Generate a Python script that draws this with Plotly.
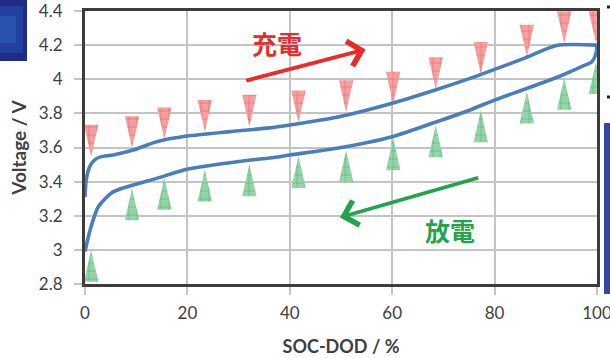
import plotly.graph_objects as go

# ---------------- data ----------------
x_ticks = [0, 20, 40, 60, 80, 100]
x_tick_labels = ["0", "20", "40", "60", "80", "100"]
y_ticks = [2.8, 3.0, 3.2, 3.4, 3.6, 3.8, 4.0, 4.2, 4.4]
y_tick_labels = ["2.8", "3", "3.2", "3.4", "3.6", "3.8", "4", "4.2", "4.4"]

# charge curve (upper blue line)
charge_soc = [0, 0.2, 0.8, 1.8, 3.0, 5.5, 9.4, 14.0, 19.9, 28.3, 36.0, 40.0, 49.2, 60.0, 68.7, 75.2, 80.0, 86.0, 92.1, 100]
charge_v = [3.31, 3.40, 3.48, 3.525, 3.545, 3.556, 3.585, 3.634, 3.667, 3.693, 3.715, 3.732, 3.777, 3.859, 3.94, 4.005, 4.058, 4.125, 4.198, 4.2]

# discharge curve (lower blue line)
discharge_soc = [0, 1.0, 2.6, 5.5, 9.4, 14.0, 19.9, 28.3, 38.0, 40.0, 49.2, 60.0, 68.7, 75.2, 80.0, 86.0, 92.1, 97.3, 99.0, 99.8, 100]
discharge_v = [2.99, 3.116, 3.253, 3.34, 3.38, 3.419, 3.472, 3.511, 3.546, 3.556, 3.595, 3.663, 3.751, 3.82, 3.878, 3.943, 4.01, 4.078, 4.103, 4.15, 4.2]

# measured points (triangles)
point_soc = [1.2, 9.2, 15.5, 23.4, 32.1, 41.7, 51.0, 60.2, 68.5, 77.3, 86.3, 93.6, 99.8]
charge_pts_v = [3.64, 3.69, 3.74, 3.785, 3.815, 3.84, 3.90, 3.95, 4.035, 4.125, 4.225, 4.305, 4.305]
discharge_pts_v = [2.907, 3.268, 3.329, 3.377, 3.408, 3.457, 3.49, 3.561, 3.637, 3.725, 3.834, 3.915, 4.007]

# annotation positions (data coords)
charge_label = ("充電", 37.5, 4.21)
discharge_label = ("放電", 71.3, 3.116)
charge_arrow = (31.2, 3.99, 54.8, 4.175)      # tail x, tail y, head x, head y
discharge_arrow = (77.1, 3.425, 49.8, 3.19)

# ---------------- layout geometry ----------------
W, H = 610, 358
L, T = 85, 11
PW, PH = 512, 273
R, B = W - L - PW, H - T - PH
X0, X1 = 0, 100
Y0, Y1 = 2.8, 4.4

HW = 7.2 * (X1 - X0) / PW      # half width of triangle (data units)
HH = 16.0 * (Y1 - Y0) / PH     # half height of triangle (data units)


def px_x(px):  # page pixel -> paper x
    return (px - L) / PW


def px_y(py):  # page pixel -> paper y
    return (T + PH - py) / PH


def triangles(xs, vs, down):
    X, Y = [], []
    for x, v in zip(xs, vs):
        if down:
            X += [x - HW, x + HW, x, x - HW, None]
            Y += [v + HH, v + HH, v - HH, v + HH, None]
        else:
            X += [x - HW, x + HW, x, x - HW, None]
            Y += [v - HH, v - HH, v + HH, v - HH, None]
    return X, Y


RED = "#ec2a2a"
GREEN = "#22a54a"
BLUE = "#4a7ebb"
AXIS = "#3c3c3c"
GRID = "#c4c4c4"
TEXT = "#404040"

fig = go.Figure()

rx, ry = triangles(point_soc, charge_pts_v, True)
fig.add_trace(go.Scatter(
    x=rx, y=ry, mode="lines", fill="toself", line=dict(width=0, color="rgba(0,0,0,0)"),
    fillcolor="#f5a2a2",
    fillpattern=dict(shape="+", size=8, solidity=0.16, fgcolor="#e03c3c", bgcolor="#f4a0a0"),
    hoverinfo="skip", showlegend=False))

gx, gy = triangles(point_soc, discharge_pts_v, False)
fig.add_trace(go.Scatter(
    x=gx, y=gy, mode="lines", fill="toself", line=dict(width=0, color="rgba(0,0,0,0)"),
    fillcolor="#92d4a8",
    fillpattern=dict(shape="+", size=8, solidity=0.16, fgcolor="#28984a", bgcolor="#94d4a8"),
    hoverinfo="skip", showlegend=False))

fig.add_trace(go.Scatter(x=charge_soc, y=charge_v, mode="lines",
                         line=dict(color=BLUE, width=3.6, shape="spline", smoothing=0.7),
                         hoverinfo="skip", showlegend=False))
fig.add_trace(go.Scatter(x=discharge_soc, y=discharge_v, mode="lines",
                         line=dict(color=BLUE, width=3.6, shape="spline", smoothing=0.7),
                         hoverinfo="skip", showlegend=False))

annotations = []
for (tx, ty, hx, hy), col in [(charge_arrow, RED), (discharge_arrow, GREEN)]:
    annotations.append(dict(x=hx, y=hy, ax=tx, ay=ty, xref="x", yref="y", axref="x", ayref="y",
                            text="", showarrow=True, arrowhead=4, arrowsize=1.3, arrowwidth=3.8,
                            arrowcolor=col, standoff=0, startstandoff=0))
for (txt, tx, ty), col in [(charge_label, RED), (discharge_label, GREEN)]:
    annotations.append(dict(x=tx, y=ty, xref="x", yref="y", text=txt, showarrow=False,
                            font=dict(family="Noto Sans CJK JP", size=25, color=col, weight="bold")))


def rect(x0, y0, x1, y1, color):
    return dict(type="rect", xref="paper", yref="paper", x0=px_x(x0), x1=px_x(x1),
                y0=px_y(y1), y1=px_y(y0), fillcolor=color, line=dict(width=0), layer="above")


shapes = [
    # decorative slide fragments around the chart (page pixels)
    rect(0, 0, 27, 61, "#1e2c86"),
    rect(0, 6, 23, 53, "#24409e"),
    rect(0, 16, 16, 43, "#2b52b0"),
    rect(604, 123, 612, 294, "#34489e"),
    rect(607, 5.5, 612, 8.5, "#222222"),
    rect(607, 95.5, 612, 98.5, "#222222"),
]

fig.update_layout(
    width=W, height=H,
    margin=dict(l=L, r=R, t=T, b=B, pad=0, autoexpand=False),
    paper_bgcolor="white", plot_bgcolor="white",
    font=dict(family="Lato", color=TEXT),
    annotations=annotations,
    shapes=shapes,
    showlegend=False,
)

fig.update_xaxes(
    range=[X0, X1], tickvals=x_ticks, ticktext=x_tick_labels, automargin=False,
    ticklabeloverflow="allow",
    showgrid=True, gridcolor=GRID, gridwidth=1.7, zeroline=False,
    showline=True, linecolor=AXIS, linewidth=3, mirror=True,
    ticks="outside", ticklen=8, tickwidth=1.5, tickcolor=GRID,
    tickfont=dict(size=17, color=TEXT, family="Lato"), ticklabelstandoff=4,
    title=dict(text="SOC-DOD / %", font=dict(size=18, color=TEXT, family="Lato", weight="bold"), standoff=18),
)
fig.update_yaxes(
    range=[Y0, Y1], tickvals=y_ticks, ticktext=y_tick_labels, automargin=False,
    ticklabeloverflow="allow",
    showgrid=True, gridcolor=GRID, gridwidth=1.7, zeroline=False,
    showline=True, linecolor=AXIS, linewidth=3, mirror=True,
    ticks="outside", ticklen=8, tickwidth=1.5, tickcolor=GRID,
    tickfont=dict(size=17, color=TEXT, family="Lato"), ticklabelstandoff=8,
    title=dict(text="Voltage / V", font=dict(size=19, color=TEXT, family="Lato", weight="bold"), standoff=8),
)

fig.write_html("out.html", config={"displayModeBar": False},
               post_script="document.body.style.margin='0';document.body.style.overflow='hidden';")
